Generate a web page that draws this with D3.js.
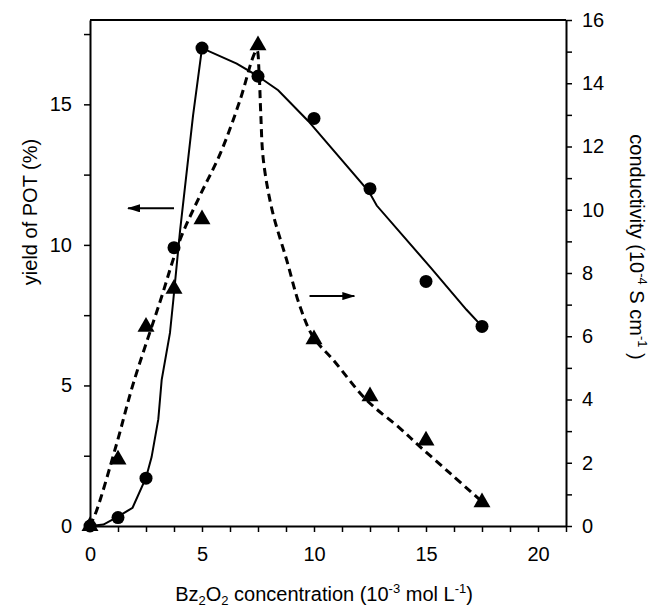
<!DOCTYPE html>
<html>
<head>
<meta charset="utf-8">
<script src="https://cdn.jsdelivr.net/npm/d3@7"></script>
<style>
	body { margin: 0; background: #fff; }
	svg { display: block; }
	text { font-family: "Liberation Sans", Arial, sans-serif; fill: #000; }
</style>
</head>
<body>
<div id="chart"></div>
<script>
// Bz2O2 concentration (10^-3 mol L^-1) of each sample
const conc = [0, 1.25, 2.5, 3.75, 5, 7.5, 10, 12.5, 15, 17.5];
// yield of POT (%) - circles, left axis
const yieldPct = [0, 0.3, 1.7, 9.9, 17.0, 16.0, 14.5, 12.0, 8.7, 7.1];
// conductivity (10^-4 S cm^-1) - triangles, right axis
const conductivity = [0, 2.1, 6.3, 7.5, 9.7, 15.2, 5.9, 4.1, 2.7, 0.75];

// guide curves as drawn in the figure, [conc, value]
const yieldCurve = [
	[0, 0], [0.6, 0.05], [1.25, 0.33], [1.9, 0.65], [2.5, 1.72], [2.75, 2.45],
	[3.05, 3.8], [3.2, 5.2], [3.57, 6.87], [3.72, 8.04], [4.02, 10.5], [4.6, 14.6],
	[5, 17.0], [6.55, 16.45], [7.5, 16.0], [8.4, 15.5], [9.75, 14.4], [12.45, 11.9],
	[12.8, 11.4], [15.2, 9.2], [16.8, 7.7], [17.5, 7.1]
];
const condCurve = [
	[0, 0], [0.3, 0.5], [1.19, 2.6], [1.93, 4.5], [3.13, 7.1],
	[4.02, 9.05], [4.91, 10.45], [5.8, 11.75], [6.7, 13.47], [7.29, 14.85], [7.45, 15.05],
	[7.55, 14.3], [7.62, 13.1], [7.74, 11.57], [8.13, 9.99], [8.78, 8.41], [9.38, 6.93],
	[9.97, 5.97], [10.86, 5.25], [12.35, 3.98], [13.84, 3.09], [14.73, 2.51],
	[16.07, 1.67], [17.45, 0.8]
];

// direction arrows: [from, to]
const leftArrow = [[3.75, 11.3], [1.7, 11.3]];   // left axis units
const rightArrow = [[9.8, 7.27], [11.8, 7.27]];  // right axis units

const xLabels = [0, 5, 10, 15, 20];
const leftLabels = [0, 5, 10, 15];
const rightLabels = [0, 2, 4, 6, 8, 10, 12, 14, 16];

const width = 655;
const height = 609;
const margin = {top: 20, right: 89, bottom: 83, left: 90};
const fontSize = 20;

const x = d3.scaleLinear().domain([0, 21.25]).range([margin.left, width - margin.right]);
const yL = d3.scaleLinear().domain([0, 18]).range([height - margin.bottom, margin.top]);
const yR = d3.scaleLinear().domain([0, 16]).range([height - margin.bottom, margin.top]);

/* eslint-disable indent */
const svg = d3.select("#chart")
	.append("svg")
		.attr("width", width)
		.attr("height", height);

svg.append("rect")
	.attr("width", width)
	.attr("height", height)
	.attr("fill", "#fff");

const defs = svg.append("defs");
defs.append("marker")
		.attr("id", "head")
		.attr("viewBox", "0 -4 13 8")
		.attr("refX", 12)
		.attr("refY", 0)
		.attr("markerWidth", 13)
		.attr("markerHeight", 8)
		.attr("markerUnits", "userSpaceOnUse")
		.attr("orient", "auto")
	.append("path")
		.attr("d", "M0,-4L13,0L0,4Z")
		.attr("fill", "#000");

const styleAxis = g => {
	g.select(".domain").attr("stroke-width", 2);
	g.selectAll(".tick line").attr("stroke-width", 1.5);
	g.selectAll("text").attr("font-size", fontSize).attr("font-family", null);
};

// X axis
svg.append("g")
		.attr("transform", `translate(0,${yL(0)})`)
		.call(d3.axisBottom(x)
			.tickValues(d3.range(0, 21.3, 1.25))
			.tickSize(6)
			.tickSizeOuter(0)
			.tickPadding(15)
			.tickFormat(d => xLabels.includes(d) ? d : ""))
		.call(styleAxis);

// left axis
svg.append("g")
		.attr("transform", `translate(${x(0)},0)`)
		.call(d3.axisLeft(yL)
			.tickValues(d3.range(0, 17.6, 2.5))
			.tickSize(6)
			.tickSizeOuter(0)
			.tickPadding(12)
			.tickFormat(d => leftLabels.includes(d) ? d : ""))
		.call(styleAxis);

// right axis
svg.append("g")
		.attr("transform", `translate(${x(21.25)},0)`)
		.call(d3.axisRight(yR)
			.tickValues(d3.range(0, 17, 1))
			.tickSize(6)
			.tickSizeOuter(0)
			.tickPadding(10)
			.tickFormat(d => rightLabels.includes(d) ? d : ""))
		.call(styleAxis);

// top frame
svg.append("line")
	.attr("x1", x(0))
	.attr("x2", x(21.25))
	.attr("y1", yL.range()[1])
	.attr("y2", yL.range()[1])
	.attr("stroke", "#000")
	.attr("stroke-width", 2);

// curves
svg.append("path")
	.datum(yieldCurve)
	.attr("d", d3.line().x(d => x(d[0])).y(d => yL(d[1])))
	.attr("fill", "none")
	.attr("stroke", "#000")
	.attr("stroke-width", 2);

svg.append("path")
	.datum(condCurve)
	.attr("d", d3.line().x(d => x(d[0])).y(d => yR(d[1])).curve(d3.curveCatmullRom.alpha(0.5)))
	.attr("fill", "none")
	.attr("stroke", "#000")
	.attr("stroke-width", 3)
	.attr("stroke-dasharray", "8,5");

// markers
svg.selectAll("circle.pt")
	.data(conc.map((c, i) => [c, yieldPct[i]]))
	.join("circle")
		.attr("class", "pt")
		.attr("cx", d => x(d[0]))
		.attr("cy", d => yL(d[1]))
		.attr("r", 6.5)
		.attr("fill", "#000");

svg.selectAll("path.tri")
	.data(conc.map((c, i) => [c, conductivity[i]]))
	.join("path")
		.attr("class", "tri")
		.attr("d", d3.symbol(d3.symbolTriangle, 125))
		.attr("transform", d => `translate(${x(d[0])},${yR(d[1])})`)
		.attr("fill", "#000");

// arrows
svg.append("line")
	.attr("x1", x(leftArrow[0][0])).attr("y1", yL(leftArrow[0][1]))
	.attr("x2", x(leftArrow[1][0])).attr("y2", yL(leftArrow[1][1]))
	.attr("stroke", "#000").attr("stroke-width", 2)
	.attr("marker-end", "url(#head)");
svg.append("line")
	.attr("x1", x(rightArrow[0][0])).attr("y1", yR(rightArrow[0][1]))
	.attr("x2", x(rightArrow[1][0])).attr("y2", yR(rightArrow[1][1]))
	.attr("stroke", "#000").attr("stroke-width", 2)
	.attr("marker-end", "url(#head)");

// axis titles
const xt = svg.append("text")
	.attr("x", (x(0) + x(21.25)) / 2 - 4)
	.attr("y", 601)
	.attr("text-anchor", "middle")
	.attr("font-size", fontSize);
xt.append("tspan").text("Bz");
xt.append("tspan").attr("font-size", 13).attr("dy", 4).text("2");
xt.append("tspan").attr("dy", -4).text("O");
xt.append("tspan").attr("font-size", 13).attr("dy", 4).text("2");
xt.append("tspan").attr("dy", -4).text(" concentration (10");
xt.append("tspan").attr("font-size", 13).attr("dy", -8).text("-3");
xt.append("tspan").attr("dy", 8).text(" mol L");
xt.append("tspan").attr("font-size", 13).attr("dy", -8).text("-1");
xt.append("tspan").attr("dy", 8).text(")");

svg.append("text")
	.attr("transform", "translate(37,212) rotate(-90)")
	.attr("text-anchor", "middle")
	.attr("font-size", fontSize)
	.text("yield of POT (%)");

const rt = svg.append("text")
	.attr("transform", "translate(630,247) rotate(90)")
	.attr("text-anchor", "middle")
	.attr("font-size", fontSize);
rt.append("tspan").text("conductivity (10");
rt.append("tspan").attr("font-size", 13).attr("dy", -8).text("-4");
rt.append("tspan").attr("dy", 8).text(" S cm");
rt.append("tspan").attr("font-size", 13).attr("dy", -8).text("-1");
rt.append("tspan").attr("dy", 8).text(" )");
/* eslint-enable */
</script>
</body>
</html>
